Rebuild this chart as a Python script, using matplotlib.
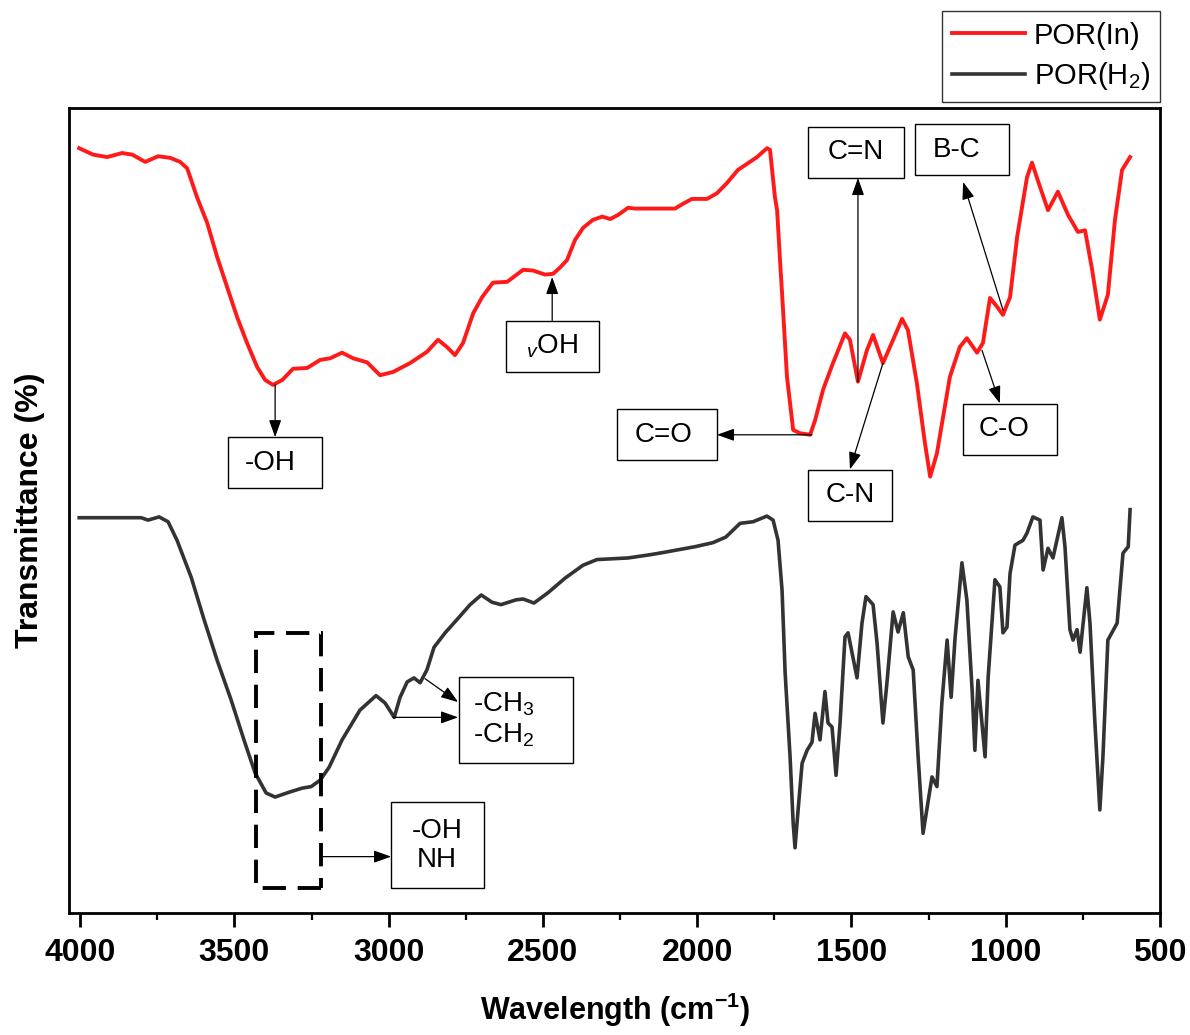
import matplotlib
matplotlib.use('Agg')
import matplotlib.pyplot as plt
from matplotlib.patches import Rectangle
from matplotlib.ticker import MultipleLocator

# FTIR spectra, wavenumber (cm-1) vs transmittance (arbitrary %)
red_wn = [4003, 3958, 3912, 3864, 3831, 3789, 3747, 3708, 3676, 3653,
          3621, 3588, 3556, 3524, 3491, 3459, 3426, 3400, 3375, 3345,
          3310, 3264, 3222, 3190, 3151, 3115, 3070, 3028, 2986, 2931,
          2876, 2840, 2811, 2785, 2759, 2726, 2697, 2662, 2616, 2564,
          2532, 2493, 2467, 2444, 2422, 2396, 2370, 2338, 2308, 2282,
          2257, 2224, 2201, 2072, 2046, 2017, 1968, 1936, 1903, 1868,
          1806, 1774, 1764, 1748, 1741, 1731, 1725, 1709, 1689, 1667,
          1634, 1618, 1592, 1560, 1521, 1505, 1479, 1450, 1430, 1398,
          1365, 1336, 1317, 1288, 1262, 1245, 1223, 1181, 1149, 1126,
          1093, 1074, 1051, 1028, 1009, 986, 963, 931, 915, 889,
          863, 831, 798, 766, 743, 720, 695, 669, 646, 623, 597]
red_t = [95.0, 94.2, 93.9, 94.4, 94.2, 93.3, 94.0, 93.8, 93.3, 92.5,
         88.9, 85.7, 81.5, 77.8, 74.0, 70.8, 67.8, 66.2, 65.6, 66.2,
         67.6, 67.7, 68.7, 68.9, 69.6, 68.9, 68.4, 66.8, 67.2, 68.3,
         69.7, 71.2, 70.3, 69.3, 70.8, 74.5, 76.5, 78.3, 78.4, 79.9,
         79.8, 79.3, 79.4, 80.2, 81.1, 83.6, 85.1, 86.1, 86.5, 86.2,
         86.7, 87.6, 87.5, 87.5, 88.1, 88.7, 88.7, 89.4, 90.7, 92.3,
         93.9, 95.0, 94.8, 88.9, 87.3, 80.7, 77.0, 66.6, 60.0, 59.6,
         59.4, 61.2, 65.0, 68.3, 72.0, 71.2, 66.0, 69.9, 71.8, 68.3,
         71.2, 73.8, 72.4, 65.8, 58.4, 54.2, 57.1, 66.6, 70.3, 71.4,
         69.6, 70.8, 76.4, 75.3, 74.3, 76.5, 84.0, 91.4, 93.2, 90.2,
         87.3, 89.6, 86.7, 84.6, 84.8, 79.9, 73.7, 76.8, 86.1, 92.3, 93.9]

blk_wn = [4003, 3802, 3780, 3744, 3715, 3686, 3640, 3598, 3556, 3511,
          3469, 3433, 3397, 3368, 3323, 3281, 3251, 3222, 3193, 3151,
          3093, 3041, 3012, 2982, 2963, 2940, 2918, 2898, 2876, 2853,
          2817, 2775, 2736, 2700, 2665, 2636, 2587, 2564, 2529, 2483,
          2428, 2370, 2325, 2224, 2153, 2107, 2007, 1949, 1907, 1861,
          1819, 1774, 1754, 1738, 1725, 1715, 1699, 1689, 1683, 1673,
          1660, 1644, 1628, 1618, 1602, 1586, 1576, 1563, 1550, 1537,
          1521, 1511, 1482, 1466, 1453, 1430, 1417, 1398, 1385, 1365,
          1349, 1332, 1316, 1300, 1284, 1268, 1251, 1239, 1223, 1207,
          1190, 1177, 1164, 1142, 1126, 1109, 1100, 1090, 1077, 1067,
          1057, 1035, 1019, 1009, 996, 986, 970, 944, 931, 912,
          889, 879, 863, 847, 818, 808, 792, 782, 769, 759,
          737, 727, 711, 695, 685, 669, 639, 620, 603, 597]
blk_t = [49.1, 49.1, 48.8, 49.2, 48.6, 46.3, 41.7, 36.4, 31.4, 26.5,
         21.5, 17.4, 14.9, 14.4, 15.0, 15.5, 15.7, 16.5, 18.1, 21.5,
         25.2, 27.0, 26.1, 24.3, 26.8, 28.7, 29.2, 28.6, 30.2, 33.0,
         34.8, 36.6, 38.3, 39.5, 38.6, 38.3, 38.9, 39.0, 38.5, 39.8,
         41.6, 43.2, 43.9, 44.1, 44.5, 44.8, 45.5, 46.0, 46.7, 48.4,
         48.6, 49.3, 48.8, 46.3, 40.1, 29.8, 19.4, 11.2, 8.1, 12.8,
         18.6, 20.2, 21.2, 24.8, 21.5, 27.5, 23.6, 23.1, 17.1, 23.6,
         34.3, 34.8, 29.2, 36.0, 39.3, 38.3, 33.5, 23.6, 28.6, 37.4,
         34.9, 37.3, 31.8, 30.2, 19.4, 9.9, 14.0, 16.9, 15.7, 26.1,
         33.9, 26.8, 34.3, 43.5, 38.9, 27.7, 20.2, 28.9, 23.6, 19.4,
         29.3, 41.4, 40.5, 34.8, 35.5, 42.2, 45.7, 46.3, 47.2, 49.2,
         48.8, 42.6, 45.3, 44.1, 49.1, 45.5, 35.2, 33.9, 35.2, 32.4,
         40.4, 36.0, 23.6, 12.8, 19.4, 33.9, 36.0, 44.7, 45.5, 50.1]

series_labels = ['POR(In)', 'POR(H$_2$)']

plt.rcParams['font.family'] = ['Liberation Sans', 'DejaVu Sans']
plt.rcParams['mathtext.fontset'] = 'custom'
plt.rcParams['mathtext.rm'] = 'Liberation Sans'
plt.rcParams['mathtext.it'] = 'Liberation Sans:italic'
plt.rcParams['mathtext.bf'] = 'Liberation Sans:bold'

fig = plt.figure(figsize=(11.9, 10.35), dpi=100)
ax = fig.add_axes([0.058, 0.1179, 0.9168, 0.7778])

ax.plot(red_wn, red_t, color='#ff1a1a', lw=2.8, label=series_labels[0],
        solid_joinstyle='round')
ax.plot(blk_wn, blk_t, color='#333333', lw=2.6, label=series_labels[1],
        solid_joinstyle='round')

ax.set_xlim(4036, 500)
ax.set_ylim(0, 100)
ax.xaxis.set_major_locator(MultipleLocator(500))
ax.xaxis.set_minor_locator(MultipleLocator(250))
ax.set_yticks([])
ax.tick_params(axis='x', which='major', direction='out', length=10, width=2,
               labelsize=23, pad=8)
ax.tick_params(axis='x', which='minor', direction='out', length=5, width=1.6)
for lab in ax.get_xticklabels():
    lab.set_fontweight('bold')
for sp in ax.spines.values():
    sp.set_linewidth(2)

ax.set_xlabel('Wavelength (cm$^{\\mathbf{-1}}$)', fontsize=22, fontweight='bold')
ax.xaxis.set_label_coords(0.5, -0.097)
ax.set_ylabel('Transmittance (%)', fontsize=23, fontweight='bold')
ax.yaxis.set_label_coords(-0.022, 0.5)

leg = ax.legend(loc='lower right', bbox_to_anchor=(1160 / 1190, 1 - 102 / 1035),
                bbox_transform=fig.transFigure, fontsize=21, frameon=True,
                fancybox=False, edgecolor='black', borderpad=0.35,
                handlelength=2.5, handletextpad=0.3, labelspacing=0.35,
                borderaxespad=0)
leg.get_frame().set_linewidth(1.0)


def label_box(cx, cy, text, w, h, dx=0, ha='center'):
    ax.add_patch(Rectangle((cx - w / 2, cy - h / 2), w, h, fc='white',
                           ec='black', lw=1.0, zorder=4))
    ax.text(cx + dx, cy, text, fontsize=20, ha=ha, va='center', zorder=5,
            linespacing=1.15)


def arrow(tail, head):
    ax.annotate('', xy=head, xytext=tail, zorder=6,
                arrowprops=dict(arrowstyle='-|>,head_length=0.7,head_width=0.25',
                                color='black', lw=0.9, mutation_scale=15,
                                shrinkA=0, shrinkB=0))


# red spectrum labels
label_box(1485, 94.5, 'C=N', 311, 6.34)
arrow((1479, 66.0), (1479, 91.3))
label_box(1142, 94.8, 'B-C', 305, 6.34, dx=18)
arrow((1009, 74.9), (1138, 90.8))
label_box(2098, 59.4, 'C=O', 324, 6.34, dx=12)
arrow((1628, 59.4), (1936, 59.4))
label_box(1505, 51.9, 'C-N', 272, 6.34)
arrow((1398, 68.3), (1505, 55.1))
label_box(986, 60.1, 'C-O', 305, 6.34, dx=20)
arrow((1077, 69.9), (1019, 63.3))
label_box(3368, 55.9, '-OH', 305, 6.34, dx=15)
arrow((3368, 65.6), (3368, 59.1))
label_box(2470, 70.4, '${}_{v}$OH', 301, 6.34)
arrow((2470, 73.6), (2470, 79.0))

# black spectrum labels
label_box(2587, 24.0, '-CH$_3$\n-CH$_2$', 369, 10.7, dx=139, ha='left')
arrow((2882, 29.1), (2775, 26.2))
arrow((2986, 24.3), (2775, 24.3))
label_box(2843, 8.4, '-OH\nNH', 301, 10.7)
ax.add_patch(Rectangle((3219, 3.1), 211, 31.7, fill=False, ec='black',
                       lw=2.8, ls=(0, (6, 3)), zorder=3))
arrow((3219, 7.0), (2992, 7.0))

fig.savefig('out.png', dpi=100)
